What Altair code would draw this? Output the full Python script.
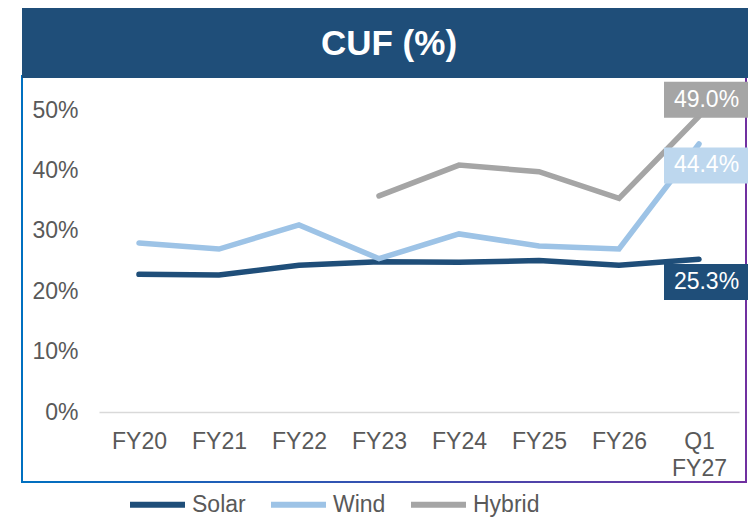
import altair as alt
import pandas as pd

categories = ["FY20", "FY21", "FY22", "FY23", "FY24", "FY25", "FY26", "Q1 FY27"]
solar = [22.8, 22.7, 24.3, 24.9, 24.8, 25.1, 24.3, 25.3]
wind = [28.0, 27.0, 31.0, 25.4, 29.5, 27.5, 27.0, 44.4]
hybrid = [None, None, None, 35.8, 40.9, 39.8, 35.4, 49.0]
series_names = ["Solar", "Wind", "Hybrid"]
line_colors = ["#1F4E79", "#9DC3E6", "#A5A5A5"]
box_colors = ["#1F4E79", "#BDD7EE", "#A5A5A5"]
title_text = "CUF (%)"

rows = []
for name, vals in zip(series_names, [solar, wind, hybrid]):
    for c, v in zip(categories, vals):
        if v is not None:
            rows.append({"cat": c, "series": name, "value": v})
df = pd.DataFrame(rows)

W, H = 640, 332
FONT = "Liberation Sans"
GREY = "#595959"

xenc = alt.X("cat:N", sort=categories, title=None,
             scale=alt.Scale(type="point", padding=0.5),
             axis=alt.Axis(ticks=False, grid=False, domainColor="#D9D9D9", domainWidth=1.5,
                           labelFontSize=23, labelColor=GREY, labelFont=FONT, labelPadding=18,
                           labelAngle=0, labelExpr="split(datum.label, ' ')", labelLineHeight=27,
                           labelBaseline="top"))
yenc = alt.Y("value:Q", title=None,
             scale=alt.Scale(domain=[0, 55], nice=False, zero=True),
             axis=alt.Axis(values=[0, 10, 20, 30, 40, 50], ticks=False, grid=False, domain=False,
                           labelFontSize=23, labelColor=GREY, labelFont=FONT, labelPadding=21,
                           labelExpr="datum.value + '%'"))

one = pd.DataFrame({"a": [0]})

frame = alt.Chart(one).mark_rect(
    fillOpacity=0, strokeWidth=2,
    stroke=alt.LinearGradient(gradient="linear", x1=0, x2=1, y1=0, y2=0,
                              stops=[alt.GradientStop(color="#0070C0", offset=0),
                                     alt.GradientStop(color="#7030A0", offset=1)])
).encode(x=alt.value(-77), x2=alt.value(647), y=alt.value(-4), y2=alt.value(402))

band = alt.Chart(one).mark_rect(color="#1F4E79").encode(
    x=alt.value(-77), x2=alt.value(652), y=alt.value(-74), y2=alt.value(-2))

title = alt.Chart(one).mark_text(
    text=title_text, color="white", fontSize=35, fontWeight="bold", font=FONT,
    align="center", baseline="middle"
).encode(x=alt.value(290), y=alt.value(-36))

lines = alt.Chart(df).mark_line(strokeWidth=5.5, strokeCap="round").encode(
    x=xenc, y=yenc,
    color=alt.Color("series:N", sort=series_names,
                    scale=alt.Scale(domain=series_names, range=line_colors),
                    legend=alt.Legend(title=None, orient="none", direction="horizontal",
                                      legendX=28, legendY=394, symbolType="stroke",
                                      symbolSize=3025, symbolStrokeWidth=6,
                                      labelFontSize=23, labelColor=GREY, labelFont=FONT,
                                      labelOffset=4, columnPadding=13)),
    detail="series:N",
)

label_dy = {"Solar": 22.6, "Wind": 21.5, "Hybrid": -16.5}
label_layers = []
last_cat = categories[-1]
for name, bc in zip(series_names, box_colors):
    sub = df[(df.series == name) & (df.cat == last_cat)]
    base = alt.Chart(sub).transform_calculate(
        lab="format(datum.value, '.1f') + '%'")
    box = base.mark_point(
        shape="M-1,-0.4235H1V0.4235H-1Z", size=7225, filled=True, opacity=1,
        color=bc, strokeWidth=0, xOffset=7.5, yOffset=label_dy[name]
    ).encode(x=xenc, y=yenc)
    txt = base.mark_text(
        color="white", fontSize=23, font=FONT, align="center", baseline="middle",
        dx=7.5, dy=label_dy[name]
    ).encode(x=xenc, y=yenc, text="lab:N")
    label_layers += [box, txt]

chart = alt.layer(frame, band, title, lines, *label_layers).properties(
    width=W, height=H,
    autosize=alt.AutoSizeParams(type="none"),
    padding={"left": 91, "top": 72, "right": 9, "bottom": 106},
).configure(font=FONT).configure_view(stroke=None)

chart.save("out.html", embed_options={"renderer": "svg", "actions": False})
